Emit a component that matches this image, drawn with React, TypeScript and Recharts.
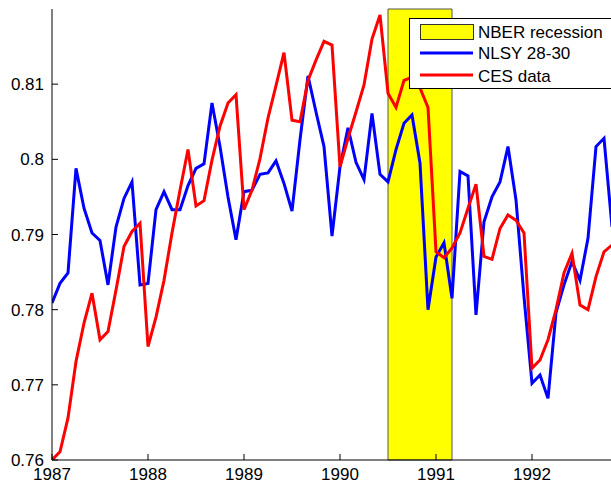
import React from "react";
import { LineChart, Line, XAxis, YAxis, ReferenceArea } from "recharts";

const startYear = 1987;
const yearTicks = [1987, 1988, 1989, 1990, 1991, 1992];
const yTicks = [0.76, 0.77, 0.78, 0.79, 0.8, 0.81];
const yTickLabels = ["0.76", "0.77", "0.78", "0.79", "0.8", "0.81"];
const recession = [1990.5, 1991 + 2 / 12];
const seriesNames = ["NBER recession", "NLSY 28-30", "CES data"];

const nlsy = [
  0.7809, 0.7835, 0.7849, 0.7988, 0.7935, 0.7902, 0.7892, 0.7833, 0.791, 0.7948, 0.797, 0.7833,
  0.7835, 0.7933, 0.7957, 0.7933, 0.7933, 0.7965, 0.7988, 0.7994, 0.8075, 0.8017, 0.795, 0.7893,
  0.7957, 0.7959, 0.798, 0.7982, 0.7998, 0.7968, 0.7931, 0.8026, 0.8111, 0.8063, 0.8017, 0.7898,
  0.799, 0.8042, 0.7996, 0.7973, 0.8061, 0.798, 0.797, 0.8013, 0.8048, 0.8059, 0.7995, 0.78,
  0.787, 0.7889, 0.7815, 0.7984, 0.7978, 0.7793, 0.7917, 0.795, 0.797, 0.8017, 0.7946, 0.7817,
  0.7702, 0.7713, 0.7682, 0.7796, 0.7833, 0.7864, 0.7839, 0.7895, 0.8017, 0.8028, 0.791,
];

const ces = [
  0.76, 0.7611, 0.7656, 0.7731, 0.7782, 0.7822, 0.776, 0.7771, 0.7826, 0.7884, 0.7904, 0.7915,
  0.7751, 0.779, 0.7839, 0.7902, 0.7959, 0.8013, 0.7938, 0.7945, 0.7999, 0.8044, 0.8075, 0.8086,
  0.7933, 0.7959, 0.8001, 0.8055, 0.8098, 0.8142, 0.8052, 0.805, 0.8105, 0.8132, 0.8157, 0.8152,
  0.799, 0.8028, 0.8063, 0.8099, 0.816, 0.8192, 0.8088, 0.8069, 0.8105, 0.8109, 0.8095, 0.8069,
  0.7877, 0.7869, 0.7882, 0.7902, 0.7935, 0.7967, 0.7871, 0.7867, 0.7908, 0.7926, 0.7919, 0.7902,
  0.7722, 0.7733, 0.776, 0.78, 0.7849, 0.7875, 0.7806, 0.78, 0.7844, 0.7877, 0.7886,
];

const data = nlsy.map((v, i) => ({ t: startYear + i / 12, nlsy: v, ces: ces[i] }));

const FONT = "'Liberation Sans', Arial, Helvetica, sans-serif";
const FS = 17;

const YTick = (props: any) => {
  const { x, y, payload } = props;
  const ax = x + 8;
  const idx = yTicks.indexOf(payload.value);
  return (
    <g>
      <line x1={ax} x2={ax + 6} y1={y} y2={y} stroke="#000" strokeWidth={1} />
      <text x={x} y={y} dy="0.36em" textAnchor="end" fontFamily={FONT} fontSize={FS} fill="#000">
        {idx >= 0 ? yTickLabels[idx] : payload.value}
      </text>
    </g>
  );
};

const XTick = (props: any) => {
  const { x, y, payload } = props;
  const ay = y - 8;
  return (
    <g>
      <line x1={x} x2={x} y1={ay} y2={ay - 6} stroke="#000" strokeWidth={1} />
      <text x={x} y={y} dy="0.71em" textAnchor="middle" fontFamily={FONT} fontSize={FS} fill="#000">
        {payload.value}
      </text>
    </g>
  );
};

const TopTick = (props: any) => {
  const { x, y } = props;
  return <line x1={x} x2={x} y1={y} y2={y + 6} stroke="#000" strokeWidth={1} />;
};

const LegendBox = () => (
  <svg width={240} height={72} style={{ display: "block", position: "absolute", left: 409, top: 18 }}>
    <rect x={0.5} y={0.5} width={238} height={70} fill="#fff" stroke="#000" strokeWidth={1} />
    <rect x={11.5} y={6.5} width={53} height={15} fill="#ffff00" stroke="#333" strokeWidth={1} />
    <text x={69} y={14} dy="0.36em" fontFamily={FONT} fontSize={FS} fill="#000">{seriesNames[0]}</text>
    <line x1={11} x2={64} y1={35} y2={35} stroke="#0000ff" strokeWidth={3} />
    <text x={69} y={35} dy="0.36em" fontFamily={FONT} fontSize={FS} fill="#000">{seriesNames[1]}</text>
    <line x1={11} x2={64} y1={57} y2={57} stroke="#ff0000" strokeWidth={3} />
    <text x={69} y={58} dy="0.36em" fontFamily={FONT} fontSize={FS} fill="#000">{seriesNames[2]}</text>
  </svg>
);

export default function App() {
  return (
    <div style={{ position: "fixed", left: 0, top: 0, width: 611, height: 485, overflow: "hidden", background: "#fff" }}>
      <LineChart width={640} height={485} data={data} margin={{ top: 9, right: 12, bottom: 0, left: 0 }}>
        <XAxis
          dataKey="t"
          type="number"
          domain={[1987, 1993]}
          ticks={yearTicks}
          height={25}
          tickSize={0}
          tickMargin={8}
          tickLine={false}
          tick={<XTick />}
          axisLine={{ stroke: "#000", strokeWidth: 1 }}
          allowDataOverflow
        />
        <XAxis
          xAxisId="top"
          dataKey="t"
          type="number"
          orientation="top"
          domain={[1987, 1993]}
          ticks={yearTicks}
          height={0}
          tickSize={0}
          tickMargin={0}
          tickLine={false}
          tick={<TopTick />}
          axisLine={{ stroke: "#000", strokeWidth: 1 }}
          allowDataOverflow
        />
        <YAxis
          type="number"
          domain={[0.76, 0.82]}
          ticks={yTicks}
          width={52}
          tickSize={0}
          tickMargin={8}
          tickLine={false}
          tick={<YTick />}
          axisLine={{ stroke: "#000", strokeWidth: 1 }}
          allowDataOverflow
        />
        <ReferenceArea
          x1={recession[0]}
          x2={recession[1]}
          y1={0.76}
          y2={0.82}
          fill="#ffff00"
          fillOpacity={1}
          stroke="#555"
          strokeWidth={1}
          ifOverflow="extendDomain"
        />
        <Line type="linear" dataKey="nlsy" name={seriesNames[1]} stroke="#0000ff" strokeWidth={3} dot={false} isAnimationActive={false} />
        <Line type="linear" dataKey="ces" name={seriesNames[2]} stroke="#ff0000" strokeWidth={3} dot={false} isAnimationActive={false} />
      </LineChart>
      <LegendBox />
    </div>
  );
}
